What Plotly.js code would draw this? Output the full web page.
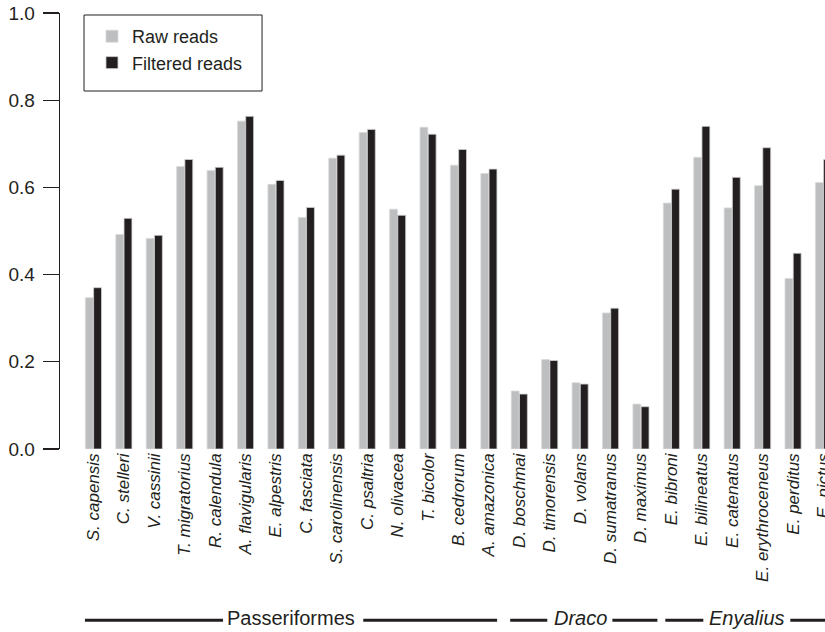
<!DOCTYPE html>
<html>
<head>
<meta charset="utf-8">
<script src="https://cdn.plot.ly/plotly-3.0.1.min.js"></script>
<style>html,body{margin:0;padding:0;background:#fff;}#chart{width:825px;height:632px;}</style>
</head>
<body>
<div id="chart"></div>
<script>
var species = ["S. capensis","C. stelleri","V. cassinii","T. migratorius","R. calendula","A. flavigularis","E. alpestris","C. fasciata","S. carolinensis","C. psaltria","N. olivacea","T. bicolor","B. cedrorum","A. amazonica",
  "D. boschmai","D. timorensis","D. volans","D. sumatranus","D. maximus",
  "E. bibroni","E. bilineatus","E. catenatus","E. erythroceneus","E. perditus","E. pictus"];
var rawReads = [0.347,0.492,0.483,0.648,0.639,0.752,0.607,0.531,0.667,0.726,0.550,0.738,0.651,0.632,
  0.133,0.205,0.152,0.312,0.103,
  0.564,0.669,0.553,0.604,0.391,0.611];
var filteredReads = [0.370,0.529,0.490,0.664,0.646,0.763,0.616,0.554,0.674,0.733,0.536,0.722,0.687,0.642,
  0.126,0.203,0.149,0.323,0.097,
  0.596,0.740,0.623,0.691,0.449,0.664];
var seriesNames = ["Raw reads","Filtered reads"];
var groupNames = ["Passeriformes","Draco","Enyalius"];
var groupItalic = [false,true,true];
var yTicks = [0,0.2,0.4,0.6,0.8,1.0];

var FONT = "Liberation Sans, Arial, sans-serif";
var INK = "#231f20";

var traces = [
  {type:"bar", name:seriesNames[0], x:species, y:rawReads,
   marker:{color:"#bcbec0", line:{color:"#d9d9d9", width:0.8}}},
  {type:"bar", name:seriesNames[1], x:species, y:filteredReads,
   marker:{color:INK, line:{color:"#cfcfcf", width:0.8}}}
];

// group bracket layout (in category-index units)
var groupCenters = [6.5, 16, 21.5];
var groupLines = [
  [[-0.28,4.26],[8.87,13.27]],
  [[13.70,14.92],[17.06,18.54]],
  [[18.80,20.05],[22.91,25.5]]
];
var lineY = -0.393;
var shapes = [];
groupLines.forEach(function(g){
  g.forEach(function(seg){
    shapes.push({type:"line", xref:"x", yref:"paper", x0:seg[0], x1:seg[1], y0:lineY, y1:lineY,
      line:{color:INK, width:3}});
  });
});
// legend frame
shapes.push({type:"rect", xref:"paper", yref:"paper", x0:0.0314, x1:0.2641, y0:0.8211, y1:0.9954,
  line:{color:INK, width:1}, fillcolor:"rgba(0,0,0,0)", layer:"above"});

var annotations = groupNames.map(function(n,i){
  return {text:n, xref:"x", yref:"paper", x:groupCenters[i], y:-0.3885, showarrow:false,
    xanchor:"center", yanchor:"middle",
    font:{family:FONT, size:20, color:INK, style: groupItalic[i] ? "italic" : "normal"}};
});

var layout = {
  width:825, height:632,
  margin:{l:60, r:0, t:13, b:183, pad:0},
  paper_bgcolor:"#fff", plot_bgcolor:"#fff",
  barmode:"group", bargap:0.46, bargroupgap:0.04,
  font:{family:FONT, color:INK},
  xaxis:{type:"category", range:[-1.1,24.05], showline:false, showgrid:false, zeroline:false,
    ticks:"", tickangle:-90, tickfont:{family:FONT, size:17, style:"italic", color:INK}},
  yaxis:{range:[0,1], tickvals:yTicks, tickformat:".1f", showline:true, linecolor:INK, linewidth:1.3,
    ticks:"outside", ticklen:16, tickwidth:1.3, tickcolor:INK, showgrid:false, zeroline:false,
    ticklabelstandoff:4, tickfont:{family:FONT, size:19, color:INK}},
  showlegend:true,
  legend:{x:0.0418, y:0.9885, xanchor:"left", yanchor:"top", bgcolor:"rgba(0,0,0,0)", borderwidth:0,
    font:{family:FONT, size:18, color:INK}, traceorder:"normal"},
  shapes:shapes,
  annotations:annotations
};
Plotly.newPlot("chart", traces, layout, {displayModeBar:false, staticPlot:true});
</script>
</body>
</html>
